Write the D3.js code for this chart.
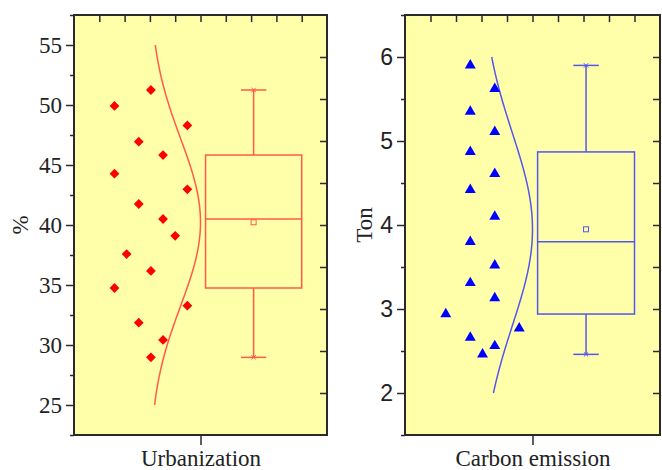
<!DOCTYPE html>
<html>
  <head>
    <script src="https://d3js.org/d3.v7.min.js"></script>
    <style>
      body { margin: 0; background: #fff; }
      .axis .domain { display: none; }
      .axis .tick line { stroke: #2a2a2a; stroke-width: 1.5px; }
    </style>
  </head>
  <body>
    <svg width="662" height="470"></svg>
    <script>
      // values
      const categories = ["Urbanization", "Carbon emission"];
      const yTitles = ["%", "Ton"];
      const urbanization = [51.25, 49.92, 48.3, 46.94, 45.83, 44.28, 42.97, 41.75, 40.5,
                            39.1, 37.58, 36.17, 34.75, 33.28, 31.86, 30.42, 28.97];
      const urbanCols = [3, 0, 6, 2, 4, 0, 6, 2, 4, 5, 1, 3, 0, 6, 2, 4, 3];
      const carbon = [5.90, 5.62, 5.35, 5.11, 4.87, 4.61, 4.42, 4.10, 3.80,
                      3.52, 3.31, 3.13, 2.94, 2.77, 2.66, 2.56, 2.46];
      const carbonCols = [2, 4, 2, 4, 2, 4, 2, 4, 2, 4, 2, 4, 0, 6, 2, 4, 3];
      const urbanTicks = [25, 30, 35, 40, 45, 50, 55];
      const urbanMinor = [22.5, 27.5, 32.5, 37.5, 42.5, 47.5, 52.5, 57.5];
      const urbanRightTicks = [26, 29.5, 33, 36.5, 40, 43.5, 47, 50.5, 54];
      const carbonTicks = [2, 3, 4, 5, 6];
      const carbonMinor = [1.5, 2.5, 3.5, 4.5, 5.5, 6.5];
      const carbonRightTicks = [2, 2.5, 3, 3.5, 4, 4.5, 5, 5.5, 6];
      const urbanCurveRange = [25, 55];
      const carbonCurveRange = [2, 6];

      const SERIF = "'Liberation Serif', 'Times New Roman', Times, serif";
      const SANS = "'Liberation Sans', Arial, Helvetica, sans-serif";

      const panels = [
        {name: categories[0], title: yTitles[0], values: urbanization, cols: urbanCols,
         domain: [22.5, 57.5], ticks: urbanTicks, minor: urbanMinor, right: urbanRightTicks,
         curve: urbanCurveRange, x0: 74, x1: 327, tickFont: SERIF,
         mark: "#ff0000", line: "#ff5a4a", symbol: d3.symbolSquare, symSize: 48, rot: 45, titleX: 20},
        {name: categories[1], title: yTitles[1], values: carbon, cols: carbonCols,
         domain: [1.5, 6.5], ticks: carbonTicks, minor: carbonMinor, right: carbonRightTicks,
         curve: carbonCurveRange, x0: 405, x1: 660, tickFont: SANS,
         mark: "#0000ff", line: "#5555f0", symbol: d3.symbolTriangle, symSize: 52, rot: 0, titleX: 364}
      ];

      const plotTop = 15, plotBottom = 435;
      const svg = d3.select("svg");
      const topTicks = d3.range(0.6, 1.41, 0.1);

      panels.forEach(p => {
        const x = d3.scaleLinear().domain([0.5, 1.5]).range([p.x0, p.x1]);
        const y = d3.scaleLinear().domain(p.domain).range([plotBottom, plotTop]);
        const g = svg.append("g");

        g.append("rect")
          .attr("x", p.x0).attr("y", plotTop)
          .attr("width", p.x1 - p.x0).attr("height", plotBottom - plotTop)
          .attr("fill", "#ffffaa");

        // normal distribution curve from data mean / sd
        const mean = d3.mean(p.values), sd = d3.deviation(p.values);
        const pdf = v => Math.exp(-0.5 * ((v - mean) / sd) ** 2);
        const cv = d3.range(0, 101).map(i => p.curve[0] + (p.curve[1] - p.curve[0]) * i / 100);
        g.append("path")
          .attr("d", d3.line().x(v => x(0.80 + 0.20 * pdf(v))).y(v => y(v)).curve(d3.curveBasis)(cv))
          .attr("fill", "none").attr("stroke", p.line).attr("stroke-width", 1.5);

        // box
        const s = p.values.slice().sort(d3.ascending);
        const q1 = d3.quantile(s, 0.25), med = d3.quantile(s, 0.5), q3 = d3.quantile(s, 0.75);
        const lo = d3.min(s), hi = d3.max(s);
        const bc = 1.21, bw = 0.19, cw = 0.05;
        const box = g.append("g").attr("stroke", p.line).attr("stroke-width", 1.5).attr("fill", "none");
        box.append("rect")
          .attr("x", x(bc - bw)).attr("y", y(q3))
          .attr("width", x(bc + bw) - x(bc - bw)).attr("height", y(q1) - y(q3));
        box.append("line").attr("x1", x(bc - bw)).attr("x2", x(bc + bw)).attr("y1", y(med)).attr("y2", y(med));
        box.append("line").attr("x1", x(bc)).attr("x2", x(bc)).attr("y1", y(q3)).attr("y2", y(hi));
        box.append("line").attr("x1", x(bc)).attr("x2", x(bc)).attr("y1", y(q1)).attr("y2", y(lo));
        [lo, hi].forEach(v => {
          box.append("line").attr("x1", x(bc - cw)).attr("x2", x(bc + cw)).attr("y1", y(v)).attr("y2", y(v));
          box.append("path").attr("stroke-width", 1)
            .attr("d", d3.symbol(d3.symbolX, 14)())
            .attr("transform", `translate(${x(bc)},${y(v)})`);
        });
        box.append("rect").attr("stroke-width", 1)
          .attr("x", x(bc) - 2.5).attr("y", y(mean) - 2.5).attr("width", 5).attr("height", 5);

        // jittered points
        g.selectAll(".pt").data(p.values).enter().append("path")
          .attr("d", d3.symbol(p.symbol, p.symSize)())
          .attr("fill", p.mark)
          .attr("transform", (d, i) => `translate(${x(0.66 + 0.048 * p.cols[i])},${y(d)}) rotate(${p.rot})`);

        // axes
        g.append("g").attr("class", "axis")
          .attr("transform", `translate(${p.x0},0)`)
          .call(d3.axisLeft(y).tickValues(p.ticks).tickSize(8).tickPadding(4).tickFormat(d3.format("d")))
          .call(a => a.selectAll("text").attr("font-family", p.tickFont).attr("font-size", 23).attr("fill", "#222"));
        g.append("g").attr("class", "axis")
          .attr("transform", `translate(${p.x0},0)`)
          .call(d3.axisLeft(y).tickValues(p.minor).tickSize(4).tickFormat(""));
        g.append("g").attr("class", "axis")
          .attr("transform", `translate(${p.x1},0)`)
          .call(d3.axisLeft(y).tickValues(p.right).tickSize(7).tickFormat(""));
        g.append("g").attr("class", "axis")
          .attr("transform", `translate(0,${plotTop})`)
          .call(d3.axisBottom(x).tickValues(topTicks).tickSize(7).tickFormat(""));
        g.append("g").attr("class", "axis")
          .attr("transform", `translate(0,${plotBottom})`)
          .call(d3.axisBottom(x).tickValues([1]).tickSize(10).tickPadding(5).tickFormat(() => p.name))
          .call(a => a.selectAll("text").attr("font-family", SERIF).attr("font-size", 23).attr("fill", "#222"));

        g.append("rect")
          .attr("x", p.x0).attr("y", plotTop)
          .attr("width", p.x1 - p.x0).attr("height", plotBottom - plotTop)
          .attr("fill", "none").attr("stroke", "#2a2a2a").attr("stroke-width", 2);

        g.append("text")
          .attr("transform", `translate(${p.titleX},${(plotTop + plotBottom) / 2}) rotate(-90)`)
          .attr("text-anchor", "middle").attr("dy", "0.35em")
          .attr("font-family", SERIF).attr("font-size", 23).attr("fill", "#222")
          .text(p.title);
      });
    </script>
  </body>
</html>
